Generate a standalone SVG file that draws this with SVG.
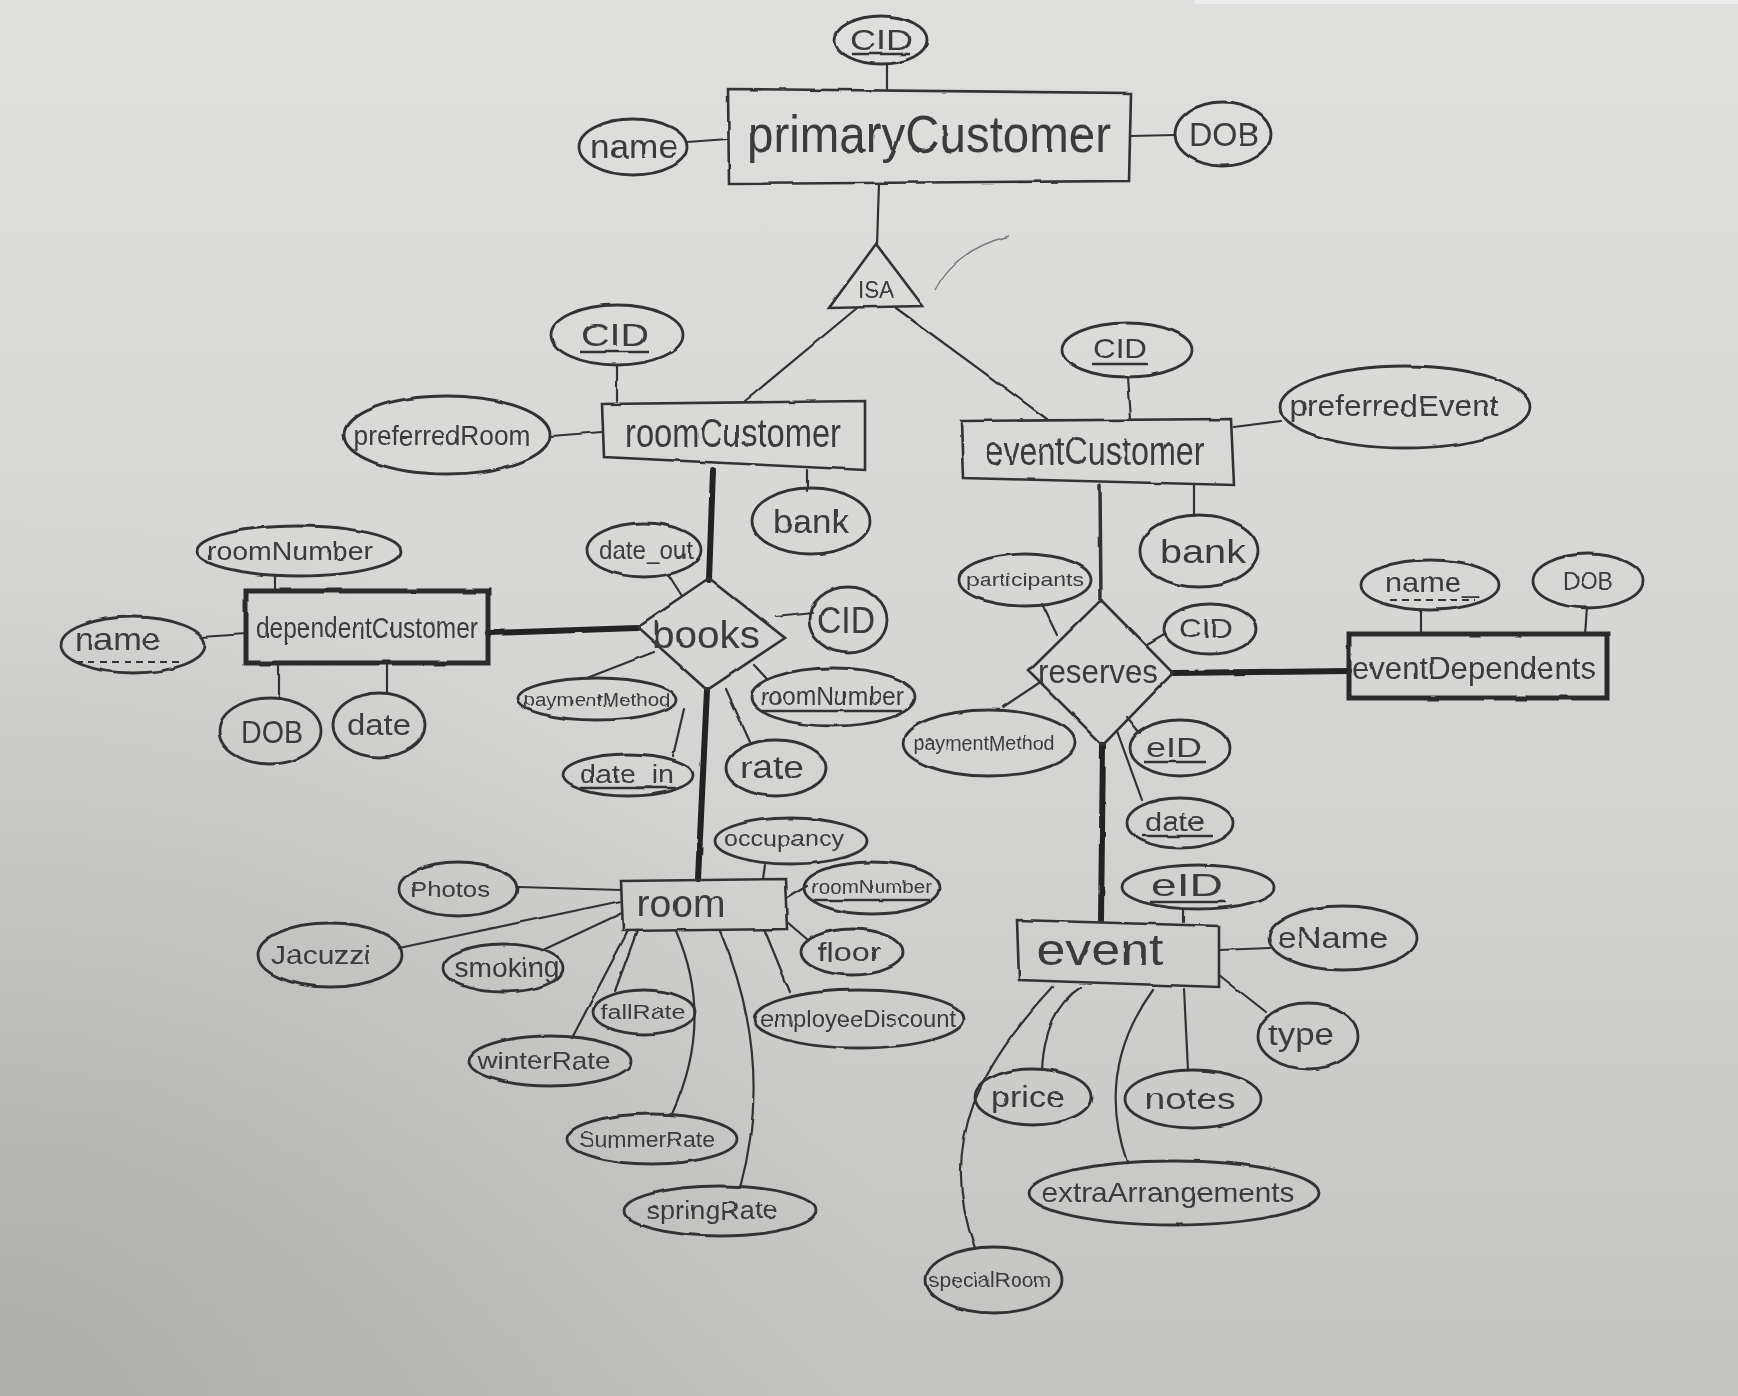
<svg xmlns="http://www.w3.org/2000/svg" width="1738" height="1396" viewBox="0 0 1738 1396">
<defs>
  <linearGradient id="paper" x1="0" y1="0" x2="0" y2="1">
    <stop offset="0" stop-color="#dfdfdd"/>
    <stop offset="0.55" stop-color="#d4d4d2"/>
    <stop offset="1" stop-color="#c3c3c1"/>
  </linearGradient>
  <radialGradient id="shade" cx="0" cy="1396" r="900" gradientUnits="userSpaceOnUse">
    <stop offset="0" stop-color="#9a9a98" stop-opacity="0.55"/>
    <stop offset="1" stop-color="#9a9a98" stop-opacity="0"/>
  </radialGradient>
  <filter id="rough" filterUnits="userSpaceOnUse" x="0" y="0" width="1738" height="1396">
    <feTurbulence type="fractalNoise" baseFrequency="0.035" numOctaves="2" seed="3"/>
    <feDisplacementMap in="SourceGraphic" scale="2.5" xChannelSelector="R" yChannelSelector="G"/>
  </filter>
  <style>
    .ent{fill:none;stroke:#333;stroke-width:2.6}
    .weak{fill:none;stroke:#2a2a2a;stroke-width:5}
    .attr{fill:none;stroke:#333;stroke-width:2.8}
    .rel{fill:none;stroke:#333;stroke-width:2.6}
    .ln{fill:none;stroke:#333;stroke-width:2.2;stroke-linecap:round}
    .thick{fill:none;stroke:#222;stroke-width:6;stroke-linecap:round}
    .med{fill:none;stroke:#333;stroke-width:3.5;stroke-linecap:round}
    .faint{fill:none;stroke:#777;stroke-width:1.4}
    .ul{stroke:#333;stroke-width:2.4}
    .dul{stroke:#333;stroke-width:2.2;stroke-dasharray:7 5}
    text{font-family:"Liberation Sans Narrow","Liberation Sans",sans-serif;fill:#3a3a3a;text-anchor:middle}
    g.node, #connectors{filter:url(#rough)}
  </style>
</defs>
<rect width="1738" height="1396" fill="url(#paper)"/>
<rect width="1738" height="1396" fill="url(#shade)"/>
<rect x="1195" y="0" width="543" height="4" fill="#ececec"/>

<g id="connectors">
  <line class="ln" x1="887" y1="64" x2="887" y2="89"/>
  <line class="ln" x1="687" y1="142" x2="728" y2="139"/>
  <line class="ln" x1="1131" y1="136" x2="1175" y2="135"/>
  <line class="ln" x1="879" y1="183" x2="877" y2="245"/>
  <line class="ln" x1="857" y1="308" x2="745" y2="401"/>
  <line class="ln" x1="896" y1="308" x2="1047" y2="419"/>
  <line class="ln" x1="617" y1="366" x2="617" y2="401"/>
  <line class="ln" x1="551" y1="436" x2="602" y2="432"/>
  <line class="ln" x1="807" y1="470" x2="807" y2="491"/>
  <line class="thick" x1="713" y1="470" x2="709" y2="580"/>
  <line class="ln" x1="668" y1="574" x2="682" y2="596"/>
  <line class="ln" x1="776" y1="617" x2="812" y2="613"/>
  <line class="ln" x1="754" y1="665" x2="767" y2="679"/>
  <line class="ln" x1="654" y1="652" x2="587" y2="678"/>
  <line class="ln" x1="684" y1="709" x2="673" y2="756"/>
  <line class="ln" x1="726" y1="689" x2="750" y2="742"/>
  <line class="thick" x1="707" y1="690" x2="698" y2="879"/>
  <line class="thick" x1="488" y1="633" x2="637" y2="628"/>
  <line class="ln" x1="275" y1="576" x2="275" y2="591"/>
  <line class="ln" x1="202" y1="637" x2="246" y2="634"/>
  <line class="ln" x1="279" y1="663" x2="279" y2="699"/>
  <line class="ln" x1="387" y1="663" x2="387" y2="694"/>
  <line class="ln" x1="1128" y1="377" x2="1131" y2="419"/>
  <line class="ln" x1="1234" y1="427" x2="1281" y2="421"/>
  <line class="ln" x1="1194" y1="485" x2="1194" y2="516"/>
  <line class="med" x1="1100" y1="485" x2="1101" y2="601"/>
  <line class="ln" x1="1042" y1="604" x2="1057" y2="635"/>
  <line class="ln" x1="1147" y1="645" x2="1166" y2="634"/>
  <line class="thick" x1="1173" y1="673" x2="1349" y2="671"/>
  <line class="ln" x1="1421" y1="610" x2="1421" y2="634"/>
  <line class="ln" x1="1587" y1="607" x2="1585" y2="634"/>
  <line class="ln" x1="1003" y1="707" x2="1042" y2="681"/>
  <line class="ln" x1="1127" y1="717" x2="1140" y2="733"/>
  <line class="ln" x1="1117" y1="731" x2="1142" y2="800"/>
  <line class="thick" x1="1103" y1="745" x2="1101" y2="920"/>
  <line class="ln" x1="1184" y1="909" x2="1184" y2="922"/>
  <line class="ln" x1="1219" y1="950" x2="1270" y2="948"/>
  <line class="ln" x1="1219" y1="975" x2="1266" y2="1012"/>
  <path class="ln" d="M1081,987 Q1045,1010 1042,1070"/>
  <line class="ln" x1="1184" y1="989" x2="1188" y2="1070"/>
  <path class="ln" d="M1153,990 Q1095,1070 1127,1162"/>
  <path class="ln" d="M1053,987 C985,1060 935,1140 975,1248"/>
  <line class="ln" x1="765" y1="865" x2="763" y2="879"/>
  <line class="ln" x1="787" y1="898" x2="807" y2="886"/>
  <line class="ln" x1="787" y1="922" x2="808" y2="940"/>
  <line class="ln" x1="765" y1="931" x2="790" y2="992"/>
  <line class="ln" x1="518" y1="887" x2="621" y2="890"/>
  <line class="ln" x1="399" y1="948" x2="621" y2="901"/>
  <line class="ln" x1="543" y1="950" x2="622" y2="913"/>
  <line class="ln" x1="637" y1="931" x2="615" y2="991"/>
  <line class="ln" x1="628" y1="931" x2="572" y2="1038"/>
  <path class="ln" d="M676,931 Q715,1020 672,1114"/>
  <path class="ln" d="M720,931 Q775,1060 740,1188"/>
  <path class="faint" d="M935,290 Q955,250 1009,236"/>
</g>

<!-- primaryCustomer -->
<g id="primaryCustomer" class="node">
  <polygon class="ent" points="728,89 1131,93 1129,181 729,184"/>
  <text x="929" y="152" font-size="52" textLength="364" lengthAdjust="spacingAndGlyphs">primaryCustomer</text>
</g>
<g id="pc-CID" class="node">
  <ellipse class="attr" cx="881" cy="40" rx="46" ry="24"/>
  <text x="881" y="50" font-size="30" textLength="62" lengthAdjust="spacingAndGlyphs">CID</text>
  <line class="ul" x1="852" y1="54" x2="910" y2="54"/>
</g>
<g id="pc-name" class="node">
  <ellipse class="attr" cx="633" cy="147" rx="54" ry="28"/>
  <text x="634" y="158" font-size="34" textLength="88" lengthAdjust="spacingAndGlyphs">name</text>
</g>
<g id="pc-DOB" class="node">
  <ellipse class="attr" cx="1223" cy="134" rx="48" ry="32"/>
  <text x="1224" y="146" font-size="34" textLength="70" lengthAdjust="spacingAndGlyphs">DOB</text>
</g>

<!-- ISA -->
<g id="isa" class="node">
  <polygon class="rel" points="876,244 829,308 923,306"/>
  <text x="876" y="298" font-size="24" textLength="36" lengthAdjust="spacingAndGlyphs">ISA</text>
</g>

<!-- roomCustomer -->
<g id="roomCustomer" class="node">
  <polygon class="ent" points="602,404 865,401 865,470 604,457"/>
  <text x="733" y="447" font-size="40" textLength="216" lengthAdjust="spacingAndGlyphs">roomCustomer</text>
</g>
<g id="rc-CID" class="node">
  <ellipse class="attr" cx="617" cy="335" rx="66" ry="30"/>
  <text x="615" y="346" font-size="32" textLength="68" lengthAdjust="spacingAndGlyphs">CID</text>
  <line class="ul" x1="580" y1="352" x2="650" y2="352"/>
</g>
<g id="rc-preferredRoom" class="node">
  <ellipse class="attr" cx="447" cy="435" rx="103" ry="39"/>
  <text x="442" y="445" font-size="28" textLength="177" lengthAdjust="spacingAndGlyphs">preferredRoom</text>
</g>
<g id="rc-bank" class="node">
  <ellipse class="attr" cx="811" cy="521" rx="59" ry="33"/>
  <text x="811" y="533" font-size="34" textLength="76" lengthAdjust="spacingAndGlyphs">bank</text>
</g>

<!-- books -->
<g id="books" class="node">
  <polygon class="rel" points="709,578 785,638 707,690 637,627"/>
  <text x="706" y="648" font-size="38" textLength="108" lengthAdjust="spacingAndGlyphs">books</text>
</g>
<g id="bk-date_out" class="node">
  <ellipse class="attr" cx="644" cy="550" rx="57" ry="27"/>
  <text x="646" y="559" font-size="26" textLength="94" lengthAdjust="spacingAndGlyphs">date_out</text>
</g>
<g id="bk-CID" class="node">
  <ellipse class="attr" cx="848" cy="620" rx="39" ry="33"/>
  <text x="846" y="633" font-size="36" textLength="58" lengthAdjust="spacingAndGlyphs">CID</text>
</g>
<g id="bk-roomNumber" class="node">
  <ellipse class="attr" cx="833" cy="697" rx="82" ry="29"/>
  <text x="832" y="705" font-size="26" textLength="144" lengthAdjust="spacingAndGlyphs">roomNumber</text>
  <line class="ul" x1="762" y1="711" x2="902" y2="711"/>
</g>
<g id="bk-paymentMethod" class="node">
  <ellipse class="attr" cx="597" cy="699" rx="79" ry="21"/>
  <text x="597" y="706" font-size="19" textLength="147" lengthAdjust="spacingAndGlyphs">paymentMethod</text>
</g>
<g id="bk-date_in" class="node">
  <ellipse class="attr" cx="628" cy="775" rx="65" ry="21"/>
  <text x="627" y="783" font-size="26" textLength="94" lengthAdjust="spacingAndGlyphs">date_in</text>
  <line class="ul" x1="580" y1="788" x2="676" y2="788"/>
</g>
<g id="bk-rate" class="node">
  <ellipse class="attr" cx="776" cy="768" rx="50" ry="28"/>
  <text x="772" y="778" font-size="32" textLength="64" lengthAdjust="spacingAndGlyphs">rate</text>
</g>

<!-- dependentCustomer -->
<g id="dependentCustomer" class="node">
  <rect class="weak" x="246" y="591" width="242" height="72"/>
  <text x="367" y="638" font-size="30" textLength="222" lengthAdjust="spacingAndGlyphs">dependentCustomer</text>
</g>
<g id="dc-roomNumber" class="node">
  <ellipse class="attr" cx="299" cy="551" rx="102" ry="25"/>
  <text x="290" y="560" font-size="26" textLength="166" lengthAdjust="spacingAndGlyphs">roomNumber</text>
</g>
<g id="dc-name" class="node">
  <ellipse class="attr" cx="133" cy="645" rx="72" ry="28"/>
  <text x="118" y="650" font-size="32" textLength="86" lengthAdjust="spacingAndGlyphs">name</text>
  <line class="dul" x1="76" y1="662" x2="180" y2="662"/>
</g>
<g id="dc-DOB" class="node">
  <ellipse class="attr" cx="270" cy="731" rx="51" ry="33"/>
  <text x="272" y="743" font-size="32" textLength="62" lengthAdjust="spacingAndGlyphs">DOB</text>
</g>
<g id="dc-date" class="node">
  <ellipse class="attr" cx="379" cy="725" rx="46" ry="32"/>
  <text x="379" y="735" font-size="30" textLength="64" lengthAdjust="spacingAndGlyphs">date</text>
</g>

<!-- eventCustomer -->
<g id="eventCustomer" class="node">
  <polygon class="ent" points="961,421 1231,419 1234,485 963,478"/>
  <text x="1095" y="465" font-size="40" textLength="219" lengthAdjust="spacingAndGlyphs">eventCustomer</text>
</g>
<g id="ec-CID" class="node">
  <ellipse class="attr" cx="1127" cy="350" rx="65" ry="27"/>
  <text x="1120" y="358" font-size="28" textLength="54" lengthAdjust="spacingAndGlyphs">CID</text>
  <line class="ul" x1="1092" y1="364" x2="1148" y2="364"/>
</g>
<g id="ec-preferredEvent" class="node">
  <ellipse class="attr" cx="1405" cy="407" rx="125" ry="41"/>
  <text x="1394" y="416" font-size="30" textLength="209" lengthAdjust="spacingAndGlyphs">preferredEvent</text>
</g>
<g id="ec-bank" class="node">
  <ellipse class="attr" cx="1199" cy="551" rx="59" ry="36"/>
  <text x="1203" y="563" font-size="34" textLength="86" lengthAdjust="spacingAndGlyphs">bank</text>
</g>

<!-- reserves -->
<g id="reserves" class="node">
  <polygon class="rel" points="1101,600 1173,673 1103,745 1029,671"/>
  <text x="1098" y="683" font-size="34" textLength="120" lengthAdjust="spacingAndGlyphs">reserves</text>
</g>
<g id="rs-participants" class="node">
  <ellipse class="attr" cx="1025" cy="580" rx="66" ry="26"/>
  <text x="1025" y="586" font-size="19" textLength="118" lengthAdjust="spacingAndGlyphs">participants</text>
</g>
<g id="rs-CID" class="node">
  <ellipse class="attr" cx="1210" cy="629" rx="46" ry="25"/>
  <text x="1206" y="638" font-size="28" textLength="54" lengthAdjust="spacingAndGlyphs">CID</text>
</g>
<g id="rs-paymentMethod" class="node">
  <ellipse class="attr" cx="989" cy="743" rx="86" ry="33"/>
  <text x="984" y="750" font-size="20" textLength="141" lengthAdjust="spacingAndGlyphs">paymentMethod</text>
</g>
<g id="rs-eID" class="node">
  <ellipse class="attr" cx="1180" cy="748" rx="50" ry="28"/>
  <text x="1174" y="757" font-size="28" textLength="56" lengthAdjust="spacingAndGlyphs">eID</text>
  <line class="ul" x1="1144" y1="762" x2="1206" y2="762"/>
</g>
<g id="rs-date" class="node">
  <ellipse class="attr" cx="1180" cy="823" rx="53" ry="25"/>
  <text x="1175" y="831" font-size="26" textLength="60" lengthAdjust="spacingAndGlyphs">date</text>
  <line class="ul" x1="1142" y1="836" x2="1212" y2="836"/>
</g>

<!-- eventDependents -->
<g id="eventDependents" class="node">
  <rect class="weak" x="1349" y="634" width="258" height="64"/>
  <text x="1474" y="679" font-size="32" textLength="244" lengthAdjust="spacingAndGlyphs">eventDependents</text>
</g>
<g id="ed-name" class="node">
  <ellipse class="attr" cx="1430" cy="585" rx="69" ry="25"/>
  <text x="1432" y="592" font-size="28" textLength="94" lengthAdjust="spacingAndGlyphs">name_</text>
  <line class="dul" x1="1390" y1="600" x2="1475" y2="600"/>
</g>
<g id="ed-DOB" class="node">
  <ellipse class="attr" cx="1588" cy="581" rx="55" ry="27"/>
  <text x="1588" y="589" font-size="24" textLength="50" lengthAdjust="spacingAndGlyphs">DOB</text>
</g>

<!-- event -->
<g id="event" class="node">
  <polygon class="ent" points="1017,920 1219,926 1219,987 1019,980"/>
  <text x="1100" y="965" font-size="44" textLength="127" lengthAdjust="spacingAndGlyphs">event</text>
</g>
<g id="ev-eID" class="node">
  <ellipse class="attr" cx="1198" cy="887" rx="76" ry="22"/>
  <text x="1187" y="896" font-size="32" textLength="72" lengthAdjust="spacingAndGlyphs">eID</text>
  <line class="ul" x1="1150" y1="902" x2="1226" y2="902"/>
</g>
<g id="ev-eName" class="node">
  <ellipse class="attr" cx="1343" cy="938" rx="74" ry="32"/>
  <text x="1333" y="948" font-size="30" textLength="111" lengthAdjust="spacingAndGlyphs">eName</text>
</g>
<g id="ev-type" class="node">
  <ellipse class="attr" cx="1308" cy="1036" rx="50" ry="33"/>
  <text x="1301" y="1045" font-size="32" textLength="66" lengthAdjust="spacingAndGlyphs">type</text>
</g>
<g id="ev-price" class="node">
  <ellipse class="attr" cx="1033" cy="1097" rx="58" ry="28"/>
  <text x="1028" y="1107" font-size="30" textLength="74" lengthAdjust="spacingAndGlyphs">price</text>
</g>
<g id="ev-notes" class="node">
  <ellipse class="attr" cx="1193" cy="1099" rx="68" ry="29"/>
  <text x="1190" y="1109" font-size="30" textLength="91" lengthAdjust="spacingAndGlyphs">notes</text>
</g>
<g id="ev-extraArrangements" class="node">
  <ellipse class="attr" cx="1174" cy="1193" rx="145" ry="32"/>
  <text x="1168" y="1202" font-size="28" textLength="253" lengthAdjust="spacingAndGlyphs">extraArrangements</text>
</g>
<g id="ev-specialRoom" class="node">
  <ellipse class="attr" cx="994" cy="1280" rx="68" ry="33"/>
  <text x="990" y="1287" font-size="20" textLength="122" lengthAdjust="spacingAndGlyphs">specialRoom</text>
</g>

<!-- room -->
<g id="room" class="node">
  <polygon class="ent" points="621,881 785,879 787,929 623,931"/>
  <text x="681" y="917" font-size="38" textLength="89" lengthAdjust="spacingAndGlyphs">room</text>
</g>
<g id="rm-occupancy" class="node">
  <ellipse class="attr" cx="791" cy="841" rx="76" ry="23"/>
  <text x="784" y="846" font-size="22" textLength="120" lengthAdjust="spacingAndGlyphs">occupancy</text>
</g>
<g id="rm-roomNumber" class="node">
  <ellipse class="attr" cx="872" cy="888" rx="68" ry="26"/>
  <text x="872" y="893" font-size="18" textLength="120" lengthAdjust="spacingAndGlyphs">roomNumber</text>
  <line class="ul" x1="814" y1="900" x2="930" y2="900"/>
</g>
<g id="rm-floor" class="node">
  <ellipse class="attr" cx="852" cy="952" rx="51" ry="23"/>
  <text x="849" y="961" font-size="26" textLength="63" lengthAdjust="spacingAndGlyphs">floor</text>
</g>
<g id="rm-employeeDiscount" class="node">
  <ellipse class="attr" cx="859" cy="1019" rx="105" ry="29"/>
  <text x="858" y="1027" font-size="24" textLength="196" lengthAdjust="spacingAndGlyphs">employeeDiscount</text>
</g>
<g id="rm-Photos" class="node">
  <ellipse class="attr" cx="458" cy="889" rx="59" ry="27"/>
  <text x="450" y="897" font-size="22" textLength="80" lengthAdjust="spacingAndGlyphs">Photos</text>
</g>
<g id="rm-Jacuzzi" class="node">
  <ellipse class="attr" cx="330" cy="955" rx="72" ry="32"/>
  <text x="321" y="964" font-size="26" textLength="100" lengthAdjust="spacingAndGlyphs">Jacuzzi</text>
</g>
<g id="rm-smoking" class="node">
  <ellipse class="attr" cx="503" cy="968" rx="60" ry="24"/>
  <text x="507" y="977" font-size="28" textLength="105" lengthAdjust="spacingAndGlyphs">smoking</text>
</g>
<g id="rm-fallRate" class="node">
  <ellipse class="attr" cx="644" cy="1012" rx="51" ry="22"/>
  <text x="643" y="1019" font-size="20" textLength="85" lengthAdjust="spacingAndGlyphs">fallRate</text>
</g>
<g id="rm-winterRate" class="node">
  <ellipse class="attr" cx="550" cy="1061" rx="81" ry="25"/>
  <text x="544" y="1069" font-size="24" textLength="133" lengthAdjust="spacingAndGlyphs">winterRate</text>
</g>
<g id="rm-SummerRate" class="node">
  <ellipse class="attr" cx="652" cy="1139" rx="85" ry="25"/>
  <text x="647" y="1147" font-size="22" textLength="136" lengthAdjust="spacingAndGlyphs">SummerRate</text>
</g>
<g id="rm-springRate" class="node">
  <ellipse class="attr" cx="720" cy="1211" rx="96" ry="25"/>
  <text x="712" y="1219" font-size="26" textLength="131" lengthAdjust="spacingAndGlyphs">springRate</text>
</g>
</svg>
